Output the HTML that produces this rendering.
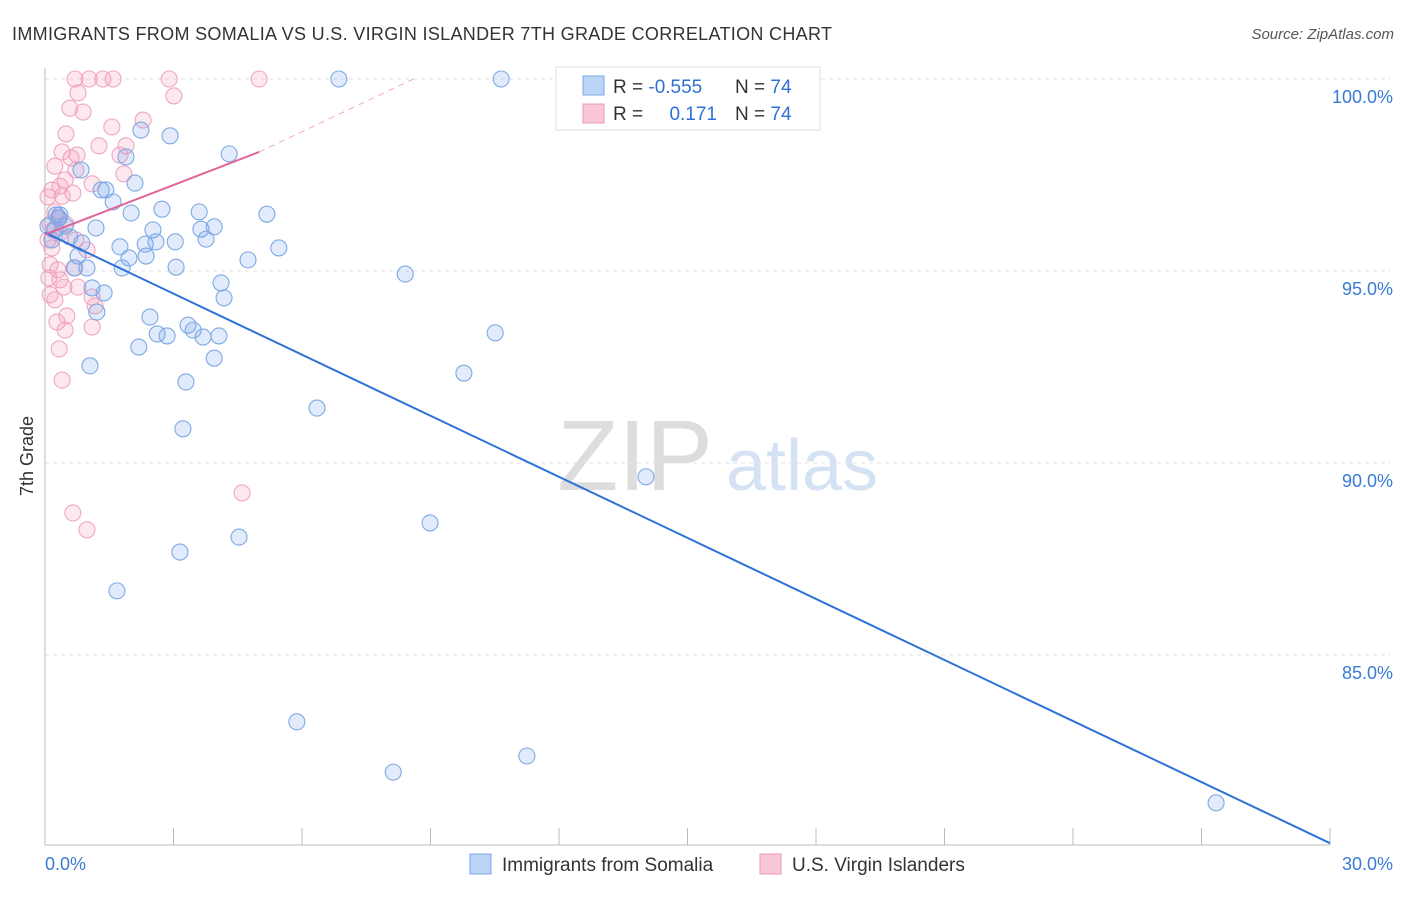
<!DOCTYPE html>
<html><head><meta charset="utf-8"><style>
body{margin:0;background:#fff;font-family:"Liberation Sans",sans-serif;}
svg text{font-family:"Liberation Sans",sans-serif;}
</style></head><body>
<svg id="chart" width="1406" height="892" xmlns="http://www.w3.org/2000/svg">
<text x="12" y="40" font-size="18" fill="#333" textLength="820">IMMIGRANTS FROM SOMALIA VS U.S. VIRGIN ISLANDER 7TH GRADE CORRELATION CHART</text>
<text x="1394" y="39" font-size="15" fill="#555" font-style="italic" text-anchor="end">Source: ZipAtlas.com</text>
<text transform="translate(33,456) rotate(-90)" font-size="18" fill="#333" text-anchor="middle">7th Grade</text>
<g><text x="635" y="490" font-size="100" fill="#ddd" text-anchor="middle" font-family="Liberation Serif">ZIP</text><text x="802" y="490" font-size="72" fill="#d5e2f3" text-anchor="middle">atlas</text></g>
<g id="grid"></g><g id="axes"></g><g id="pts"></g><g id="lines"></g>
<g>
<rect x="556" y="67" width="264" height="63" fill="#fff" stroke="#ddd"/>
<rect x="583" y="76" width="21" height="19" fill="#bcd4f5" stroke="#7aa7e6"/>
<rect x="583" y="104" width="21" height="19" fill="#f9c7d6" stroke="#ea9ab6"/>
<text x="613" y="93" font-size="19" fill="#333">R = <tspan fill="#2f6fd6">-0.555</tspan></text>
<text x="735" y="93" font-size="19" fill="#333">N = <tspan fill="#2f6fd6">74</tspan></text>
<text x="613" y="120" font-size="19" fill="#333">R = </text><text x="717" y="120" font-size="19" fill="#2f6fd6" text-anchor="end">0.171</text>
<text x="735" y="120" font-size="19" fill="#333">N = <tspan fill="#2f6fd6">74</tspan></text>
</g>
<g>
<rect x="470" y="854" width="21" height="20" fill="#bcd4f5" stroke="#7aa7e6"/>
<text x="502" y="871" font-size="19" fill="#333">Immigrants from Somalia</text>
<rect x="760" y="854" width="21" height="20" fill="#f9c7d6" stroke="#ea9ab6"/>
<text x="792" y="871" font-size="19" fill="#333">U.S. Virgin Islanders</text>
</g>
</svg>
<script>
const yTicks=[100,95,90,85];
const yTickLabels=["100.0%","95.0%","90.0%","85.0%"];
const xTicks=[0,3,6,9,12,15,18,21,24,27,30];
const xLabels=["0.0%","30.0%"];
const blueX=[6.86,10.65,2.24,2.92,4.30,1.89,0.84,2.10,1.31,1.42,1.59,2.01,2.73,3.60,5.18,0.26,0.33,1.19,2.52,3.64,3.95,0.58,0.86,1.75,2.34,2.59,3.04,3.76,5.46,0.77,1.96,2.36,4.74,0.68,0.98,1.80,3.06,8.41,4.11,1.10,1.38,4.18,1.21,2.45,3.34,3.46,2.62,2.85,3.69,4.06,10.51,2.19,3.95,1.05,9.78,3.29,6.35,3.22,14.03,8.99,4.53,3.15,1.68,5.88,11.25,8.13,27.34,0.07,0.16,0.35,0.23,0.47];
const blueY=[100,100,98.67,98.52,98.05,97.97,97.63,97.29,97.11,97.11,96.80,96.51,96.61,96.54,96.48,96.46,96.38,96.12,96.07,96.09,96.15,95.89,95.73,95.63,95.70,95.76,95.76,95.83,95.60,95.39,95.34,95.39,95.29,95.08,95.08,95.08,95.10,94.92,94.69,94.56,94.43,94.30,93.93,93.80,93.59,93.46,93.36,93.31,93.28,93.31,93.39,93.02,92.73,92.53,92.34,92.11,91.43,90.89,89.64,88.44,88.07,87.68,86.67,83.26,82.37,81.95,81.15,96.17,95.81,96.46,96.07,96.17];
const pinkX=[0.70,1.03,1.35,1.59,2.90,5.00,0.77,3.01,0.58,0.89,2.29,0.49,1.56,1.89,1.26,0.40,0.75,1.75,0.23,0.61,0.72,1.84,0.47,1.10,0.16,0.35,0.65,0.40,0.07,0.23,0.30,0.49,0.12,0.19,0.35,0.07,0.72,0.16,0.98,0.12,0.30,0.70,0.09,0.35,0.44,0.77,0.12,1.10,0.23,1.17,0.51,0.28,0.47,1.10,0.33,0.40,4.60,0.65,0.98];
const pinkY=[100,100,100,100,100,100,99.64,99.56,99.24,99.14,98.93,98.57,98.75,98.26,98.26,98.10,98.02,98.02,97.73,97.94,97.63,97.53,97.37,97.27,97.11,97.21,97.03,96.95,96.93,96.54,96.38,96.22,96.22,96.07,95.99,95.81,95.81,95.60,95.55,95.16,95.03,95.08,94.82,94.77,94.58,94.58,94.38,94.32,94.25,94.09,93.83,93.67,93.46,93.54,92.97,92.16,89.22,88.70,88.26];
const blueTrend=[[0,96.0],[30,80.1]];
const pinkTrend=[[0,95.95],[5,98.1]];
const pinkTrendExt=[[5,98.1],[8.6,100]];
const X=v=>45+v*(1330-45)/30, Y=v=>79+(100-v)*38.4;
const NS="http://www.w3.org/2000/svg";
function mk(t,a,p){const e=document.createElementNS(NS,t);for(const k in a)e.setAttribute(k,a[k]);p.appendChild(e);return e;}
const grid=document.getElementById('grid'),axes=document.getElementById('axes'),pts=document.getElementById('pts'),lines=document.getElementById('lines');
yTicks.forEach((v,i)=>{const l=mk('line',{x1:45,x2:1390,y1:Y(v),y2:Y(v),stroke:'#e2e2e2','stroke-dasharray':'4,4'},grid);


const t=mk('text',{x:1393,y:Y(v)+24,'font-size':18,fill:'#3a7bd5','text-anchor':'end'},axes);t.textContent=yTickLabels[i];

});
const ax=mk('line',{x1:45,x2:1330,y1:845,y2:845,stroke:'#bbb'},axes);


const ay=mk('line',{x1:45,x2:45,y1:68,y2:845,stroke:'#bbb'},axes);


xTicks.forEach(v=>{const t=mk('line',{x1:X(v),x2:X(v),y1:828,y2:845,stroke:'#bbb'},axes);

});
[[0,'start'],[30,'end']].forEach((p,i)=>{const t=mk('text',{x:X(p[0])+(i?63:0),y:870,'font-size':18,fill:'#3a7bd5','text-anchor':p[1]},axes);t.textContent=xLabels[i];

});
pinkX.forEach((x,i)=>{const c=mk('circle',{cx:X(x),cy:Y(pinkY[i]),r:8,fill:'rgba(244,150,180,0.22)',stroke:'#efa6c0','stroke-width':1.1},pts);

});
blueX.forEach((x,i)=>{const c=mk('circle',{cx:X(x),cy:Y(blueY[i]),r:8,fill:'rgba(120,165,235,0.22)',stroke:'#7ea9e4','stroke-width':1.1},pts);

});
const bl=mk('line',{x1:X(blueTrend[0][0]),y1:Y(blueTrend[0][1]),x2:X(blueTrend[1][0]),y2:Y(blueTrend[1][1]),stroke:'#2f72d8','stroke-width':2},lines);


const pl=mk('line',{x1:X(pinkTrend[0][0]),y1:Y(pinkTrend[0][1]),x2:X(pinkTrend[1][0]),y2:Y(pinkTrend[1][1]),stroke:'#e0649a','stroke-width':2},lines);


const pe=mk('line',{x1:X(pinkTrendExt[0][0]),y1:Y(pinkTrendExt[0][1]),x2:X(pinkTrendExt[1][0]),y2:Y(pinkTrendExt[1][1]),stroke:'#f0a8c4','stroke-width':1,'stroke-dasharray':'6,5'},lines);


</script>
</body></html>
